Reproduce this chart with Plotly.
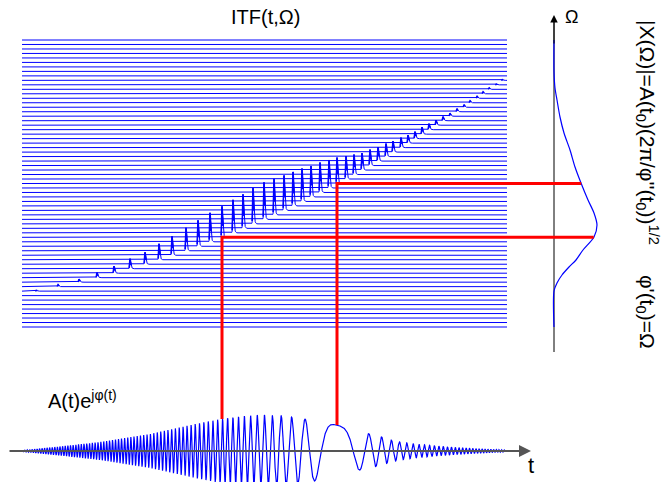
import numpy as np
import plotly.graph_objects as go

W, H = 669, 482

# ---------------- data ----------------
# ITF(t, Omega): horizontal slices (index 0 = top slice)
n_lines = 65
itf_top, itf_bottom = 40.0, 327.0
itf_left, itf_right = 22.0, 507.0

# slices carrying a spike: slice index, spike time position, spike height
spike_line = list(range(9, 57))
spike_t = [502, 496, 489, 483, 477, 470, 464, 457, 450, 443,
           436, 429, 422, 415, 408, 401, 393, 386, 378, 370,
           362, 354, 346, 337, 329, 320, 311, 302, 293, 284,
           274, 264, 253, 243, 233, 222, 210, 198, 186, 172,
           159, 145, 130, 114, 97, 79, 58, 36]
spike_h = [1, 1, 1.5, 2, 2, 2, 2.5, 3, 3, 4,
           5, 6, 7, 7, 8, 10, 11, 13, 14, 16,
           17, 20, 23, 26, 28, 30, 31, 33, 34, 35,
           36, 37, 36, 34, 33, 31, 29, 26, 23, 19,
           16, 12, 10, 7, 5, 3, 2, 1]

# spectrum |X(Omega)| drawn along the Omega axis (position, bulge)
spec_axis_x = 554.0
spec_axis_top, spec_axis_bottom = 15.0, 352.0
spec_y = [40, 72, 88, 100, 117, 133, 150, 167, 183, 200, 213, 225, 237, 250, 260, 267, 275, 283, 291, 327]
spec_b = [0, 0, 1, 3, 6, 10, 16, 21, 27, 34, 40, 43, 40, 29, 22, 15, 8, 3, 0, 0]

# time signal A(t) e^{j phi(t)}
time_axis_y = 451.0
time_axis_x0, time_axis_x1 = 8.0, 531.0
sig_t0, sig_t1 = 22.0, 505.0
env_t = [22, 40, 60, 100, 150, 200, 221, 245, 263, 285, 304, 320, 337, 352, 360,
         368, 382, 391, 400, 413, 426, 450, 475, 505]
env_a = [0.5, 2.5, 4.5, 9, 17, 28, 32, 35, 36, 35, 32, 29, 26, 21, 19,
         17.5, 14, 11, 9, 7.3, 6, 4, 2.5, 1]
kappa = 0.0235          # phase rate per unit of Omega
stationary_line = 32    # slice where phi'(t) = 0
marked_lines = [44, 32]  # the two red construction lines

# ---------------- derived geometry ----------------
line_y = itf_top + np.arange(n_lines) * (itf_bottom - itf_top) / (n_lines - 1)

# ITF slices: full lines, plus a bolder overlay of each spike
line_x, line_yy, pk_x, pk_y = [], [], [], []
spike_map = {k: (t, h) for k, t, h in zip(spike_line, spike_t, spike_h)}
for k in range(n_lines):
    y0 = float(line_y[k])
    if k in spike_map:
        tp, hp = spike_map[k]
        d = np.linspace(-2.0, 5.0, 71)
        f = np.where(d < 0, np.exp(-(d / 0.5) ** 2), np.exp(-(d / 1.1) ** 1.5))
        px = tp + d
        py = y0 - hp * f
        xx = np.concatenate([[itf_left], px, [itf_right]])
        yy = np.concatenate([[y0], py, [y0]])
        line_x += [float(v) for v in xx] + [None]
        line_yy += [float(v) for v in yy] + [None]
        sel = (d > -0.8) & (d < 1.2)
        pk_x += [float(v) for v in px[sel]] + [None]
        pk_y += [float(v) for v in py[sel]] + [None]
    else:
        line_x += [itf_left, itf_right, None]
        line_yy += [y0, y0, None]

# ridge & phase
st = np.array(spike_t[::-1], dtype=float)
sy = np.array([line_y[k] for k in spike_line[::-1]])
def ridge_y(t):
    t = np.asarray(t, dtype=float)
    r = np.interp(t, st, sy)
    lo = t < st[0]
    r[lo] = sy[0] + (t[lo] - st[0]) * (sy[1] - sy[0]) / (st[1] - st[0])
    hi = t > st[-1]
    r[hi] = sy[-1] + (t[hi] - st[-1]) * (sy[-1] - sy[-2]) / (st[-1] - st[-2])
    return r

y_zero = line_y[stationary_line]
t_stat = spike_map[stationary_line][0]
tt = np.arange(sig_t0, sig_t1 + 0.01, 0.12)
omega = (y_zero - ridge_y(tt)) * kappa
phi = np.concatenate([[0], np.cumsum(0.5 * (omega[1:] + omega[:-1]) * np.diff(tt))])
phi = phi - np.interp(t_stat, tt, phi)
A = np.interp(tt, env_t, env_a)
sig = time_axis_y - A * np.cos(phi)

# spectrum curve (smooth spline through the read points)
spec_xx = [spec_axis_x + b for b in spec_b]

# red construction lines
rx, ry = [], []
for k in marked_lines:
    t0 = spike_map[k][0]
    yl = float(line_y[k])
    a0 = float(np.interp(t0, env_t, env_a))
    xr = spec_axis_x + float(np.interp(yl, spec_y, spec_b))
    rx += [t0, t0, xr, None]
    ry += [time_axis_y - a0, yl, yl, None]

blue = "#0000ff"
fig = go.Figure()
fig.add_trace(go.Scatter(x=line_x, y=line_yy, mode="lines", line=dict(color=blue, width=1),
                         hoverinfo="skip"))
fig.add_trace(go.Scatter(x=pk_x, y=pk_y, mode="lines", line=dict(color=blue, width=1.6),
                         hoverinfo="skip"))
fig.add_trace(go.Scatter(x=[spec_axis_x, spec_axis_x], y=[spec_axis_bottom, spec_axis_top + 4],
                         mode="lines", line=dict(color="black", width=1), hoverinfo="skip"))
fig.add_trace(go.Scatter(x=spec_xx, y=spec_y, mode="lines",
                         line=dict(color=blue, width=1.2, shape="spline", smoothing=0.8),
                         hoverinfo="skip"))
fig.add_trace(go.Scatter(x=tt, y=sig, mode="lines", line=dict(color=blue, width=1.2),
                         hoverinfo="skip"))
fig.add_trace(go.Scatter(x=rx, y=ry, mode="lines", line=dict(color="#ff0000", width=3),
                         hoverinfo="skip"))

font = "Liberation Sans, Arial, sans-serif"
ann = []
# time axis arrow
ann.append(dict(x=time_axis_x1, y=time_axis_y, ax=time_axis_x0, ay=time_axis_y,
                xref="x", yref="y", axref="x", ayref="y", text="", showarrow=True,
                arrowhead=2, arrowsize=1.2, arrowwidth=2, arrowcolor="#555555", standoff=0))
# Omega axis arrow
ann.append(dict(x=spec_axis_x, y=spec_axis_top, ax=spec_axis_x, ay=spec_axis_top + 30,
                xref="x", yref="y", axref="x", ayref="y", text="", showarrow=True,
                arrowhead=2, arrowsize=1.5, arrowwidth=1, arrowcolor="black", standoff=0))
ann.append(dict(x=265, y=17, text="ITF(t,Ω)", showarrow=False, xref="x", yref="y",
                font=dict(family=font, size=20, color="black")))
ann.append(dict(x=82, y=399, text="A(t)e<sup>jφ(t)</sup>", showarrow=False, xref="x", yref="y",
                font=dict(family=font, size=20, color="black")))
ann.append(dict(x=531, y=465, text="t", showarrow=False, xref="x", yref="y",
                font=dict(family=font, size=22, color="black")))
ann.append(dict(x=571, y=17, text="Ω", showarrow=False, xref="x", yref="y",
                font=dict(family=font, size=18, color="black")))
ann.append(dict(x=648, y=132, text="|X(Ω)|=A(t<sub>0</sub>)(2π/φ''(t<sub>0</sub>))<sup>1/2</sup>",
                showarrow=False, xref="x", yref="y", textangle=90,
                font=dict(family=font, size=21, color="black")))
ann.append(dict(x=646, y=312, text="φ'(t<sub>0</sub>)=Ω",
                showarrow=False, xref="x", yref="y", textangle=90,
                font=dict(family=font, size=21, color="black")))

fig.update_layout(
    width=W, height=H, margin=dict(l=0, r=0, t=0, b=0),
    paper_bgcolor="white", plot_bgcolor="white", showlegend=False,
    xaxis=dict(range=[0, W], visible=False, fixedrange=True),
    yaxis=dict(range=[H, 0], visible=False, fixedrange=True),
    annotations=ann,
)
fig.write_html("out.html")
